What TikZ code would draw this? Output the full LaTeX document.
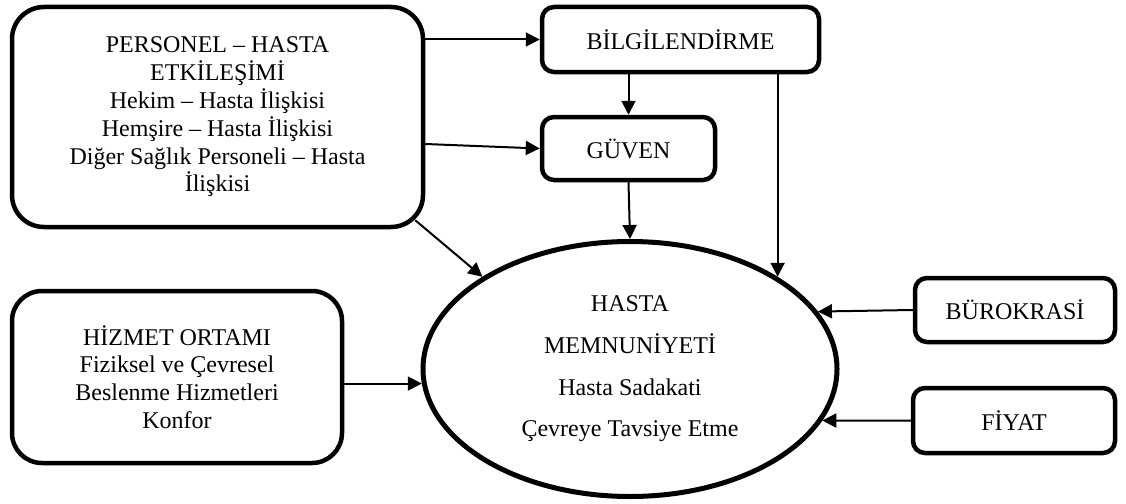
\documentclass[tikz,border=0pt]{standalone}
\usepackage{fontspec}
\setmainfont{Liberation Serif}
\usetikzlibrary{arrows.meta,shapes.geometric}
\tikzset{
  bigbox/.style={draw, line width=4.5pt, rounded corners=32pt, align=center, inner sep=0pt,
    font=\fontsize{24}{27.8}\selectfont},
  smallbox/.style={draw, line width=4.5pt, rounded corners=12pt, inner sep=0pt,
    font=\fontsize{24}{28}\selectfont},
  ell/.style={draw, ellipse, line width=5pt, inner sep=0pt, align=center,
    font=\fontsize{24}{41.7}\selectfont},
  arr/.style={line width=2pt, -{Triangle[length=14pt,width=14pt]}},
}
\begin{document}
\begin{tikzpicture}[x=1pt,y=-1pt]
\useasboundingbox (0,0) rectangle (1126,503);

\node[bigbox, minimum width=411pt, minimum height=220pt] (pers) at (217.5,117)
  {PERSONEL – HASTA\\ETKİLEŞİMİ\\Hekim – Hasta İlişkisi\\Hemşire – Hasta İlişkisi\\Diğer Sağlık Personeli – Hasta\\İlişkisi};
\node[bigbox, rounded corners=30pt, minimum width=330pt, minimum height=172pt] (hizmet) at (177,377)
  {HİZMET ORTAMI\\Fiziksel ve Çevresel\\Beslenme Hizmetleri\\Konfor};
\node[smallbox, minimum width=277pt, minimum height=65pt] (bilg) at (680.5,39.5) {BİLGİLENDİRME};
\node[smallbox, minimum width=173pt, minimum height=63pt] (guven) at (628.5,148.5) {GÜVEN};
\node[smallbox, minimum width=200pt, minimum height=64pt] (buro) at (1015,310) {BÜROKRASİ};
\node[smallbox, minimum width=202pt, minimum height=65pt] (fiyat) at (1014,420.5) {FİYAT};
\node[ell, minimum width=414pt, minimum height=255pt] (hasta) at (630,369)
  {HASTA\\MEMNUNİYETİ\\Hasta Sadakati\\Çevreye Tavsiye Etme};

\draw[arr] (pers.east |- bilg.west) -- (bilg.west);
\draw[arr] ([yshift=-27pt]pers.east) -- (guven.west);
\draw[arr] (guven.north |- bilg.south) -- (guven.north);
\draw[arr] (guven.south) -- (hasta.north);
\draw[arr] (hasta.32 |- bilg.south) -- (hasta.32);
\draw[arr] ([shift={(-10pt,9pt)}]pers.south east) -- (hasta.148.6);
\draw[arr] (hasta.184.6 -| hizmet.east) -- (hasta.184.6);
\draw[arr] (buro.west) -- (hasta.17.3);
\draw[arr] (fiyat.west) -- (hasta.-15.6);
\end{tikzpicture}
\end{document}
